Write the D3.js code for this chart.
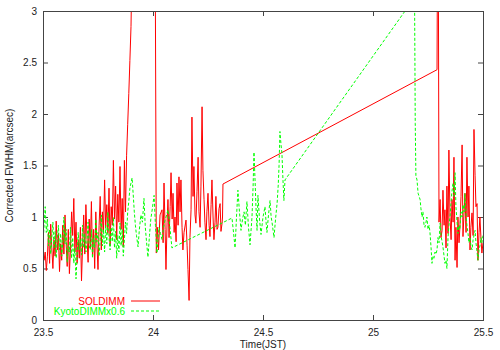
<!DOCTYPE html>
<html>
<head>
<meta charset="utf-8">
<script src="https://cdn.jsdelivr.net/npm/d3@7"></script>
<style>
  body { margin: 0; background: #fff; }
  text { font-family: "Liberation Sans", Arial, sans-serif; font-size: 10px; }
</style>
</head>
<body>
<div id="chart"></div>
<script>
// SOLDIMM seeing [time (h, JST), FWHM arcsec]
const solDimm = [
  [23.500,0.72],[23.505,0.58],[23.510,0.66],[23.515,0.48],[23.520,0.62],[23.525,0.85],[23.530,0.55],[23.535,0.93],
  [23.540,0.70],[23.545,0.50],[23.550,0.78],[23.555,0.62],[23.560,0.96],[23.565,0.68],[23.570,0.84],[23.575,0.47],
  [23.580,0.74],[23.585,0.58],[23.590,0.92],[23.595,0.64],[23.600,1.02],[23.605,0.75],[23.610,0.52],[23.615,0.88],
  [23.620,0.45],[23.625,0.70],[23.630,1.05],[23.635,0.82],[23.640,1.18],[23.645,0.66],[23.650,0.95],[23.655,0.55],
  [23.660,0.78],[23.665,0.60],[23.670,0.90],[23.675,0.38],[23.680,0.72],[23.685,1.02],[23.690,0.64],[23.695,1.12],
  [23.700,0.80],[23.705,0.56],[23.710,0.98],[23.715,0.70],[23.720,1.15],[23.725,0.62],[23.730,0.88],[23.735,0.50],
  [23.740,1.05],[23.745,0.74],[23.750,0.49],[23.755,0.92],[23.760,1.20],[23.765,0.68],[23.770,1.05],[23.775,0.86],
  [23.780,1.36],[23.785,0.90],[23.790,1.12],[23.795,0.84],[23.800,1.28],[23.805,0.72],[23.810,1.10],[23.815,0.92],
  [23.820,1.55],[23.825,0.98],[23.830,1.30],[23.835,0.78],[23.840,1.22],[23.845,0.95],[23.850,1.49],[23.855,0.88],
  [23.860,1.18],[23.865,0.71],[23.870,1.55],[23.875,1.05],[23.880,1.60],[23.885,1.90],[23.890,2.20],[23.895,2.52],
  [23.900,2.85],[23.905,3.50],[23.950,3.80],[24.010,3.60],[24.015,0.65],[24.020,0.90],[24.025,0.68],[24.032,1.02],
  [24.041,1.07],[24.046,0.75],[24.050,1.33],[24.055,0.88],[24.059,0.49],[24.064,0.95],[24.068,1.17],[24.073,0.80],
  [24.078,1.10],[24.082,1.43],[24.087,0.98],[24.091,1.23],[24.096,0.85],[24.100,1.00],[24.105,0.76],[24.109,1.33],
  [24.114,0.92],[24.118,1.39],[24.123,1.05],[24.127,1.36],[24.132,0.90],[24.136,0.68],[24.141,0.85],[24.150,0.97],
  [24.155,0.72],[24.159,0.49],[24.164,0.19],[24.168,0.80],[24.173,1.07],[24.177,1.97],[24.182,1.20],[24.186,1.49],
  [24.191,1.02],[24.195,0.94],[24.200,1.25],[24.205,1.58],[24.209,1.05],[24.214,0.90],[24.218,1.30],[24.223,2.07],
  [24.227,1.45],[24.232,1.17],[24.236,0.95],[24.241,0.78],[24.245,1.05],[24.250,1.23],[24.255,0.92],[24.259,0.81],
  [24.264,1.12],[24.268,1.36],[24.273,1.00],[24.277,0.78],[24.282,0.95],[24.286,1.20],[24.291,0.88],[24.295,0.90],
  [24.300,1.08],[24.305,1.13],[24.309,0.86],[24.314,0.94],[24.316,1.00],[24.318,1.32],
  [25.291,2.43],[25.293,3.50],[25.297,3.50],[25.300,0.95],[25.305,1.17],[25.309,0.80],[25.314,0.87],[25.318,1.26],
  [25.323,0.92],[25.327,1.07],[25.332,0.70],[25.336,1.30],[25.341,0.84],[25.345,1.65],[25.350,1.00],[25.355,0.78],
  [25.359,1.17],[25.364,0.95],[25.368,1.58],[25.373,0.58],[25.377,0.90],[25.382,0.51],[25.386,1.00],[25.391,0.75],
  [25.395,0.90],[25.400,1.20],[25.405,1.70],[25.409,0.81],[25.414,1.05],[25.418,1.23],[25.423,0.85],[25.427,1.58],
  [25.432,1.00],[25.436,1.30],[25.441,0.68],[25.445,0.90],[25.450,1.04],[25.455,0.82],[25.459,1.85],[25.464,1.40],
  [25.468,1.10],[25.473,1.13],[25.477,0.58],[25.482,0.85],[25.486,1.00],[25.491,0.78],[25.495,0.65],[25.500,0.75]
];

// Kyoto DIMM seeing x0.6 [time, FWHM arcsec]
const kyotoDimm = [
  [23.500,0.75],[23.505,0.92],[23.510,1.10],[23.515,0.85],[23.520,0.98],[23.525,0.72],[23.530,0.88],[23.535,0.64],
  [23.540,0.80],[23.545,0.95],[23.550,0.70],[23.555,0.86],[23.560,0.60],[23.565,0.78],[23.570,0.92],[23.575,0.68],
  [23.580,0.84],[23.585,0.62],[23.590,0.76],[23.595,1.00],[23.600,0.74],[23.605,0.88],[23.610,0.56],[23.615,0.72],
  [23.620,0.66],[23.625,0.90],[23.630,0.60],[23.635,0.80],[23.640,0.55],[23.645,0.70],[23.650,0.40],[23.655,0.62],
  [23.660,0.85],[23.665,0.68],[23.670,0.78],[23.675,0.63],[23.680,0.92],[23.685,0.70],[23.690,0.84],[23.695,0.66],
  [23.700,0.76],[23.705,0.95],[23.710,0.72],[23.715,0.68],[23.720,0.88],[23.725,0.60],[23.730,0.80],[23.735,0.70],
  [23.740,0.98],[23.745,0.76],[23.750,0.85],[23.755,0.62],[23.760,0.78],[23.765,1.02],[23.770,0.72],[23.775,0.88],
  [23.780,0.66],[23.785,0.92],[23.790,0.74],[23.795,1.05],[23.800,0.80],[23.805,0.68],[23.810,0.90],[23.815,0.76],
  [23.820,1.00],[23.825,0.70],[23.830,0.86],[23.835,0.60],[23.840,0.82],[23.845,0.66],[23.850,0.94],[23.855,0.72],
  [23.860,0.88],[23.865,0.62],[23.870,0.78],[23.875,0.95],[23.880,0.84],[23.885,1.05],[23.890,1.15],[23.895,1.28],
  [23.905,1.38],[23.910,1.22],[23.915,1.05],[23.920,0.92],[23.925,0.82],[23.932,0.71],[23.938,0.88],[23.945,1.02],
  [23.952,0.95],[23.959,1.18],[23.965,0.90],[23.971,0.75],[23.977,0.61],[23.984,0.82],[23.990,0.98],[23.997,1.08],
  [24.005,1.21],[24.011,0.92],[24.018,0.65],[24.027,0.90],[24.034,0.84],[24.041,0.78],[24.048,0.90],[24.055,0.97],
  [24.062,1.02],[24.068,1.07],[24.077,0.90],[24.086,0.70],
  [24.359,0.99],[24.366,0.85],[24.373,0.70],[24.380,1.02],[24.386,1.26],[24.393,1.05],[24.400,0.87],[24.407,0.98],
  [24.414,1.05],[24.420,0.92],[24.427,1.15],[24.434,0.90],[24.441,0.73],[24.450,1.00],[24.455,1.30],[24.459,1.63],
  [24.464,1.35],[24.468,1.10],[24.473,0.87],[24.477,1.21],[24.484,0.98],[24.491,0.83],[24.500,1.00],[24.509,1.10],
  [24.514,0.95],[24.518,0.85],[24.525,1.02],[24.532,1.16],[24.537,1.00],[24.541,0.95],[24.550,0.80],[24.557,0.98],
  [24.564,1.13],[24.569,1.30],[24.573,1.50],[24.577,1.83],[24.582,1.70],[24.586,1.62],[24.591,1.35],[24.595,1.16],
  [24.600,1.36],
  [25.189,3.13],[25.192,1.91],[25.195,1.40],[25.200,1.36],[25.205,1.23],[25.214,1.17],[25.218,1.08],[25.223,1.00],
  [25.227,1.05],[25.232,0.92],[25.236,0.90],[25.241,0.95],[25.245,1.00],[25.250,0.88],[25.255,0.92],[25.259,0.85],
  [25.264,0.70],[25.268,0.55],[25.273,0.62],[25.277,0.60],[25.282,0.66],[25.286,0.64],[25.291,0.68],[25.295,0.80],
  [25.300,0.75],[25.305,0.94],[25.309,0.82],[25.314,0.76],[25.318,0.71],[25.323,0.62],[25.327,0.55],[25.332,0.58],
  [25.336,0.50],[25.341,0.80],[25.345,0.92],[25.350,1.00],[25.355,1.15],[25.359,1.25],[25.364,1.33],[25.368,1.20],
  [25.373,1.43],[25.377,1.10],[25.382,0.95],[25.386,0.84],[25.391,0.92],[25.395,0.88],[25.400,1.05],[25.405,1.00],
  [25.409,1.12],[25.414,1.05],[25.418,1.23],[25.423,1.02],[25.427,0.92],[25.432,0.84],[25.436,0.75],[25.441,0.80],
  [25.445,0.72],[25.450,0.68],[25.455,0.78],[25.459,0.82],[25.464,0.87],[25.468,0.75],[25.473,0.66],[25.477,0.58],
  [25.482,0.68],[25.486,0.72],[25.491,0.80],[25.495,0.75],[25.500,0.82]
];

const xTicks = [23.5, 24, 24.5, 25, 25.5];
const yTicks = [0, 0.5, 1, 1.5, 2, 2.5, 3];
const seriesNames = ["SOLDIMM", "KyotoDIMMx0.6"];
const seriesColors = ["#ff0000", "#00ff00"];

const W = 500, H = 350;
const margin = { top: 11, right: 17, bottom: 30, left: 43 };
const width = W - margin.left - margin.right;
const height = H - margin.top - margin.bottom;

const svg = d3.select("#chart").append("svg")
  .attr("width", W)
  .attr("height", H);

const g = svg.append("g")
  .attr("transform", `translate(${margin.left},${margin.top})`);

const x = d3.scaleLinear().domain([23.5, 25.5]).range([0, width]);
const y = d3.scaleLinear().domain([0, 3]).range([height, 0]);

// clip lines to the plot box like gnuplot
svg.append("defs").append("clipPath").attr("id", "plotclip")
  .append("rect").attr("width", width).attr("height", height);

const fmt = (d) => String(d);

function styleAxis(sel) {
  sel.select(".domain").remove();
  sel.selectAll(".tick line").attr("stroke", "#444");
  sel.selectAll(".tick text").attr("fill", "#222").style("font-size", "10px");
}

g.append("g")
  .attr("transform", `translate(0,${height})`)
  .call(d3.axisBottom(x).tickValues(xTicks).tickFormat(fmt).tickSizeInner(-5).tickSizeOuter(0).tickPadding(9))
  .call(styleAxis);
g.append("g")
  .call(d3.axisTop(x).tickValues(xTicks).tickFormat("").tickSizeInner(-5).tickSizeOuter(0))
  .call(styleAxis);
g.append("g")
  .call(d3.axisLeft(y).tickValues(yTicks).tickFormat(fmt).tickSizeInner(-5).tickSizeOuter(0).tickPadding(6))
  .call(styleAxis);
g.append("g")
  .attr("transform", `translate(${width},0)`)
  .call(d3.axisRight(y).tickValues(yTicks).tickFormat("").tickSizeInner(-5).tickSizeOuter(0))
  .call(styleAxis);

const line = d3.line().x((d) => x(d[0])).y((d) => y(d[1]));

const plot = g.append("g").attr("clip-path", "url(#plotclip)");

plot.append("path")
  .datum(solDimm)
  .attr("fill", "none")
  .attr("stroke", seriesColors[0])
  .attr("stroke-width", 1)
  .attr("d", line);

plot.append("path")
  .datum(kyotoDimm)
  .attr("fill", "none")
  .attr("stroke", seriesColors[1])
  .attr("stroke-width", 1)
  .attr("stroke-dasharray", "3,2")
  .attr("d", line);

// frame
g.append("rect")
  .attr("width", width)
  .attr("height", height)
  .attr("fill", "none")
  .attr("stroke", "#444")
  .attr("stroke-width", 1)
  .attr("shape-rendering", "crispEdges");

// legend
const legend = g.append("g");
seriesNames.forEach((name, i) => {
  const ly = 290 + i * 10;
  legend.append("text")
    .attr("x", 82)
    .attr("y", ly)
    .attr("dy", "0.35em")
    .attr("text-anchor", "end")
    .attr("fill", seriesColors[i])
    .text(name);
  legend.append("line")
    .attr("x1", 88).attr("x2", 117)
    .attr("y1", ly).attr("y2", ly)
    .attr("stroke", seriesColors[i])
    .attr("stroke-dasharray", i === 1 ? "3,2" : null);
});

// axis titles
svg.append("text")
  .attr("x", margin.left + width / 2)
  .attr("y", 348)
  .attr("text-anchor", "middle")
  .attr("fill", "#222")
  .text("Time(JST)");

svg.append("text")
  .attr("transform", `translate(13,${margin.top + height / 2}) rotate(-90)`)
  .attr("text-anchor", "middle")
  .attr("fill", "#222")
  .text("Corrected FWHM(arcsec)");
</script>
</body>
</html>
